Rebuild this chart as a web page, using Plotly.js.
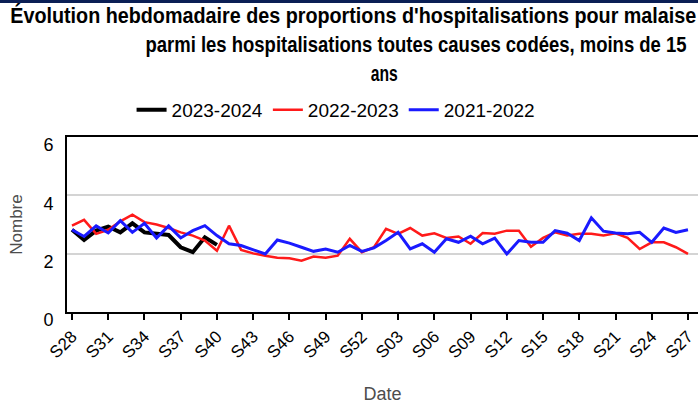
<!DOCTYPE html>
<html>
<head>
<meta charset="utf-8">
<script src="https://cdn.plot.ly/plotly-3.0.1.min.js"></script>
<style>
html,body{margin:0;padding:0;background:#fff;overflow:hidden;}
#topbar{position:absolute;left:0;top:0;width:698px;height:3px;background:#0b1f55;z-index:10;}
#chart{width:698px;height:405px;}
</style>
</head>
<body>
<div id="topbar"></div>
<div id="chart"></div>
<script>
const weeks = ["S28","S29","S30","S31","S32","S33","S34","S35","S36","S37","S38","S39","S40","S41","S42","S43","S44","S45","S46","S47","S48","S49","S50","S51","S52",
  "S01","S02","S03","S04","S05","S06","S07","S08","S09","S10","S11","S12","S13","S14","S15","S16","S17","S18","S19","S20","S21","S22","S23","S24","S25","S26","S27"];
const tickLabels = ["S28","S31","S34","S37","S40","S43","S46","S49","S52","S03","S06","S09","S12","S15","S18","S21","S24","S27"];
const titleLines = ["Évolution hebdomadaire des proportions d'hospitalisations pour malaise",
  "parmi les hospitalisations toutes causes codées, moins de 15",
  "ans"];
const seasonNames = ["2023-2024","2022-2023","2021-2022"];
const s2023 = [2.82,2.47,2.79,2.93,2.73,3.04,2.73,2.68,2.64,2.22,2.05,2.56,2.30];
const s2022 = [2.96,3.16,2.68,2.82,3.11,3.34,3.08,3.00,2.88,2.73,
  2.62,2.45,2.10,2.96,2.13,2.01,1.93,1.86,1.84,1.76,
  1.90,1.86,1.93,2.51,2.05,2.22,2.85,2.68,2.88,2.62,
  2.70,2.54,2.59,2.34,2.71,2.68,2.79,2.79,2.24,2.54,
  2.73,2.62,2.68,2.68,2.62,2.70,2.54,2.16,2.39,2.39,
  2.22,1.99];
const s2021 = [2.82,2.59,2.95,2.71,3.13,2.73,3.04,2.54,2.95,2.54,
  2.79,2.96,2.62,2.34,2.28,2.13,1.99,2.47,2.36,2.22,
  2.08,2.16,2.05,2.28,2.08,2.20,2.45,2.73,2.16,2.34,
  2.05,2.51,2.39,2.60,2.34,2.53,1.99,2.45,2.39,2.39,
  2.79,2.70,2.45,3.23,2.77,2.71,2.68,2.73,2.39,2.88,
  2.73,2.82];
const colors = ["#000000","#ff1a1a","#1a1aff"];
const widths = [4,2.5,3];
const series = [s2023,s2022,s2021];

const traces = series.map((s,k)=>({
  type:"scatter", mode:"lines",
  x: weeks.slice(0,s.length), y: s,
  name: seasonNames[k],
  line:{color:colors[k], width:widths[k]}
}));

// title lines: centre x (px), centre y (px), target width (px)
const titlePos = [[353,15,686],[416,44,541],[383.5,73,27]];
const titleFont = {family:"Liberation Sans, Arial, sans-serif", size:18.8, color:"#000", weight:"bold"};
const annotations = titleLines.map((t,i)=>({
  text:t, xref:"paper", yref:"paper",
  x:(titlePos[i][0]-67)/631, y:1 + (137-titlePos[i][1])/175.7,
  xanchor:"center", yanchor:"middle", showarrow:false, font:titleFont
}));

const layout = {
  width:698, height:405,
  margin:{l:67,r:0,t:137,b:93},
  paper_bgcolor:"#fff", plot_bgcolor:"#fff",
  font:{family:"Liberation Sans, Arial, sans-serif", color:"#000"},
  annotations: annotations,
  showlegend:true,
  legend:{orientation:"h", xref:"container", yref:"container", x:0.1885, xanchor:"left", y:1-91/405, yanchor:"top",
    font:{family:"Liberation Sans, Arial, sans-serif", size:19, color:"#000"}, bgcolor:"rgba(0,0,0,0)"},
  xaxis:{type:"category", categoryorder:"array", categoryarray:weeks,
    range:[-0.414,51.83], tickmode:"array", tickvals:tickLabels, ticktext:tickLabels,
    tickangle:-45, ticks:"outside", ticklen:6, tickwidth:2, tickcolor:"#000",
    showline:true, linecolor:"#000", linewidth:2, mirror:true,
    showgrid:false, zeroline:false,
    tickfont:{size:17, color:"#000"},
    title:{text:"Date", font:{size:18, color:"#4d4d4d"}, standoff:26}},
  yaxis:{range:[0,6], tickvals:[0,2,4,6], ticks:"", showline:true, linecolor:"#000", linewidth:2,
    showgrid:true, gridcolor:"#d4d4d4", gridwidth:2, zeroline:false,
    tickfont:{size:18, color:"#000"}, ticklabelshift:8, ticklabelstandoff:8,
    title:{text:"Nombre", font:{size:17, color:"#4d4d4d"}, standoff:16}}
};

Plotly.newPlot("chart", traces, layout, {displayModeBar:false, staticPlot:true}).then(()=>{
  const els = document.querySelectorAll("#chart .annotation-text");
  els.forEach((el,i)=>{
    if (i < titlePos.length) {
      el.setAttribute("textLength", titlePos[i][2]);
      el.setAttribute("lengthAdjust", "spacingAndGlyphs");
      const bb = el.getBBox();
      const cy = bb.y + bb.height/2;
      el.setAttribute("transform", "translate(0," + cy + ") scale(1,1.16) translate(0," + (-cy) + ")");
    }
  });
});
</script>
</body>
</html>
